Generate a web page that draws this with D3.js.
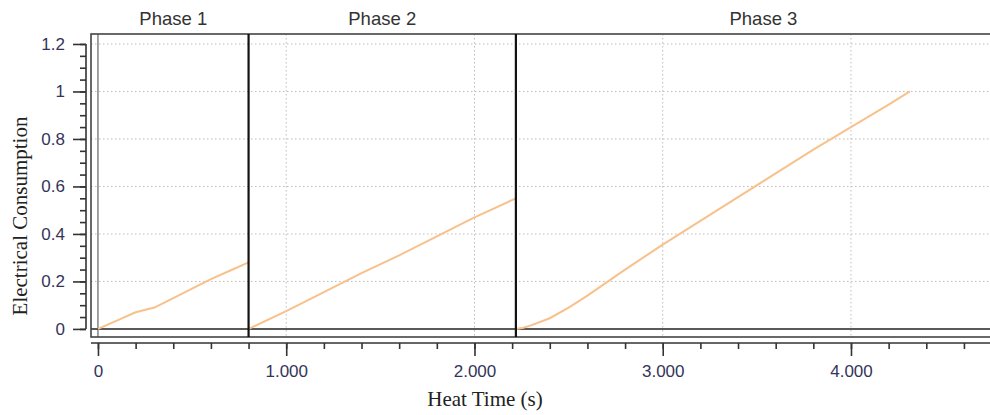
<!DOCTYPE html>
<html>
<head>
<meta charset="utf-8">
<script src="https://cdn.jsdelivr.net/npm/d3@7"></script>
<style>
  body { margin: 0; background: #fff; }
  svg { display: block; }
</style>
</head>
<body>
<svg id="chart"></svg>
<script>
// heat time (s) and electrical consumption, one array per phase
const phase1Time = [0, 100, 200, 300, 400, 500, 600, 700, 800];
const phase1Value = [0, 0.035, 0.07, 0.09, 0.13, 0.17, 0.21, 0.245, 0.28];
const phase2Time = [800, 1000, 1200, 1400, 1600, 1800, 2000, 2220];
const phase2Value = [0, 0.075, 0.155, 0.235, 0.31, 0.39, 0.47, 0.55];
const phase3Time = [2220, 2260, 2300, 2400, 2500, 2600, 2700, 2800, 3000, 3200, 3400, 3600, 3800, 4000, 4200, 4313];
const phase3Value = [0, 0.005, 0.015, 0.045, 0.09, 0.14, 0.195, 0.25, 0.355, 0.455, 0.555, 0.655, 0.755, 0.85, 0.945, 1.0];

const phaseNames = ['Phase 1', 'Phase 2', 'Phase 3'];
const phaseStarts = [0, 800, 2220];
const xMajorTicks = [0, 1000, 2000, 3000, 4000];
const yMajorTicks = [0, 0.2, 0.4, 0.6, 0.8, 1, 1.2];

const width = 990;
const height = 415;
const box = { left: 91, top: 34, right: 1011, bottom: 337 };
const xDomain = [-37, 4850];
const yDomain = [-0.034, 1.242];

const svg = d3.select('#chart')
    .attr('width', width)
    .attr('height', height);

const x = d3.scaleLinear().domain(xDomain).range([box.left, box.right]);
const y = d3.scaleLinear().domain(yDomain).range([box.bottom, box.top]);

const dotFmt = d3.formatLocale({ decimal: ',', thousands: '.', grouping: [3], currency: ['', ''] }).format(',');

// gridlines
const grid = svg.append('g').attr('class', 'grid');
grid.selectAll('line.hgrid')
    .data(yMajorTicks.filter(d => d > 0))
    .enter()
    .append('line')
        .attr('x1', box.left).attr('x2', width)
        .attr('y1', d => y(d)).attr('y2', d => y(d))
        .attr('stroke', '#bdbdbd')
        .attr('stroke-dasharray', '1.5,2.5');
grid.selectAll('line.vgrid')
    .data(xMajorTicks.filter(d => d > 0))
    .enter()
    .append('line')
        .attr('x1', d => x(d)).attr('x2', d => x(d))
        .attr('y1', box.top).attr('y2', box.bottom)
        .attr('stroke', '#bdbdbd')
        .attr('stroke-dasharray', '1.5,2.5');

// zero lines
svg.append('line')
    .attr('x1', box.left).attr('x2', width)
    .attr('y1', y(0)).attr('y2', y(0))
    .attr('stroke', '#222').attr('stroke-width', 1.6);
svg.append('line')
    .attr('x1', x(0)).attr('x2', x(0))
    .attr('y1', box.top).attr('y2', box.bottom)
    .attr('stroke', '#444').attr('stroke-width', 1);

// plot frame
svg.append('rect')
    .attr('x', box.left).attr('y', box.top)
    .attr('width', box.right - box.left).attr('height', box.bottom - box.top)
    .attr('fill', 'none')
    .attr('stroke', '#444')
    .attr('stroke-width', 1.6);

// series
const line = d3.line()
    .x(d => x(d[0]))
    .y(d => y(d[1]));

const series = [
    d3.zip(phase1Time, phase1Value),
    d3.zip(phase2Time, phase2Value),
    d3.zip(phase3Time, phase3Value)
];

svg.append('g')
    .attr('class', 'series')
    .selectAll('path')
    .data(series)
    .enter()
    .append('path')
        .attr('d', line)
        .attr('fill', 'none')
        .attr('stroke', '#f8c18c')
        .attr('stroke-width', 2);

// phase boundaries
svg.append('g')
    .selectAll('line')
    .data(phaseStarts.slice(1))
    .enter()
    .append('line')
        .attr('x1', d => x(d)).attr('x2', d => x(d))
        .attr('y1', box.top).attr('y2', box.bottom)
        .attr('stroke', '#111')
        .attr('stroke-width', 2.2);

// phase labels
const phaseEnds = phaseStarts.slice(1).concat([xDomain[1]]);
svg.append('g')
    .selectAll('text')
    .data(phaseNames)
    .enter()
    .append('text')
        .attr('x', (d, i) => x((phaseStarts[i] + phaseEnds[i]) / 2))
        .attr('y', 25)
        .attr('text-anchor', 'middle')
        .attr('fill', '#333')
        .style('font-family', '\'Liberation Sans\', Arial, sans-serif')
        .style('font-size', '18.5px')
        .text(d => d);

// y axis
const yAxisG = svg.append('g')
    .attr('transform', 'translate(86,0)');
yAxisG.append('g')
    .call(d3.axisLeft(y).tickValues(d3.range(0, 1.2001, 0.05)).tickSize(6).tickFormat(''))
    .call(g => g.select('.domain').remove());
yAxisG.append('g')
    .call(d3.axisLeft(y).tickValues(yMajorTicks).tickSize(13).tickPadding(8).tickFormat(d => String(d)))
    .call(g => g.select('.domain').remove());
yAxisG.append('line')
    .attr('y1', y(1.2)).attr('y2', y(0))
    .attr('stroke', '#333').attr('stroke-width', 1.6);

// x axis
const xAxisG = svg.append('g')
    .attr('transform', 'translate(0,343)');
xAxisG.append('g')
    .call(d3.axisBottom(x).tickValues(d3.range(0, 4801, 200)).tickSize(6).tickFormat(''))
    .call(g => g.select('.domain').remove());
xAxisG.append('g')
    .call(d3.axisBottom(x).tickValues(xMajorTicks).tickSize(13).tickPadding(9).tickFormat(dotFmt))
    .call(g => g.select('.domain').remove());
xAxisG.append('line')
    .attr('x1', box.left).attr('x2', width)
    .attr('stroke', '#333').attr('stroke-width', 1.6);

svg.selectAll('.tick line')
    .attr('stroke', '#333')
    .attr('stroke-width', 1.6);
svg.selectAll('.tick text')
    .attr('fill', '#34345a')
    .style('font-family', '\'Liberation Sans\', Arial, sans-serif')
    .style('font-size', '17px');

// axis titles
svg.append('text')
    .attr('x', 485)
    .attr('y', 406)
    .attr('text-anchor', 'middle')
    .attr('fill', '#222')
    .style('font-family', '\'Liberation Serif\', \'Times New Roman\', serif')
    .style('font-size', '21px')
    .text('Heat Time (s)');

svg.append('text')
    .attr('transform', 'translate(27,216) rotate(-90)')
    .attr('text-anchor', 'middle')
    .attr('fill', '#222')
    .style('font-family', '\'Liberation Serif\', \'Times New Roman\', serif')
    .style('font-size', '21px')
    .text('Electrical Consumption');
</script>
</body>
</html>
